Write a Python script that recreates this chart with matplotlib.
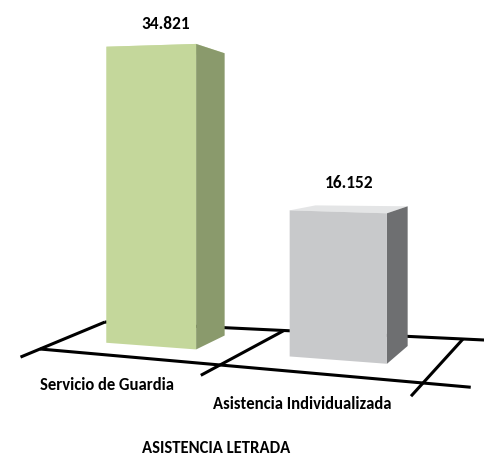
import numpy as np
import matplotlib.pyplot as plt
from matplotlib.patches import Polygon

categorias = ['Servicio de Guardia', 'Asistencia Individualizada']
valores = [34821, 16152]
etiquetas = ['34.821', '16.152']
titulo = 'ASISTENCIA LETRADA'

# colores: frente, lado, tapa
colores = [('#c4d79b', '#8a9a6c', '#d3e2b3'),
           ('#c8c9cb', '#6e6f71', '#e4e5e6')]

plt.rcParams['font.family'] = ['Carlito', 'DejaVu Sans']

W, H = 485, 456

# "camara" a mano: esquinas del piso en pixeles (u = categoria, w = profundidad)
A = np.array([40., 350.])   # u=-0.5, w=0
B = np.array([423., 384.])  # u=1.5,  w=0
C = np.array([105., 323.])  # u=-0.5, w=1
D = np.array([463., 340.])  # u=1.5,  w=1
esc = 0.008638              # pixeles por unidad de valor
ancho = 0.5
w0, w1 = 0.35, 0.78         # profundidad de las barras


def proj(u, v, w):
    t = (u + 0.5) / 2
    tf = t - 0.12 * t * (1 - t)  # algo de perspectiva en el frente
    front = A + tf * (B - A)
    back = C + t * (D - C)
    p = front + w * (back - front)
    s = 1 + 0.063 * u - 0.18 * (w - w0)
    return p[0], p[1] - v * esc * s


fig = plt.figure(figsize=(W / 100, H / 100), dpi=100)
ax = fig.add_axes([0, 0, 1, 1])
ax.set_xlim(0, W)
ax.set_ylim(H, 0)
ax.axis('off')

# piso
def linea(pts):
    xs, ys = zip(*pts)
    ax.plot(xs, ys, color='black', lw=2.2, solid_capstyle='butt', zorder=1)

linea([proj(-0.5, 0, 0), proj(1.72, 0, 0)])
linea([proj(-0.5, 0, 1), proj(2.1, 0, 1)])
for ub in [-0.5, 0.5, 1.5]:
    linea([proj(ub, 0, -0.3), proj(ub, 0, 1)])

# barras
for i, (val, col) in enumerate(zip(valores, colores)):
    ul, ur = i - ancho / 2, i + ancho / 2
    fl_b, fr_b = proj(ul, 0, w0), proj(ur, 0, w0)
    fl_t, fr_t = proj(ul, val, w0), proj(ur, val, w0)
    bl_t, br_t = proj(ul, val, w1), proj(ur, val, w1)
    br_b = proj(ur, 0, w1)
    ax.add_patch(Polygon([fl_t, fr_t, br_t, bl_t], closed=True, fc=col[2], ec='none', zorder=2))
    ax.add_patch(Polygon([fr_b, br_b, br_t, fr_t], closed=True, fc=col[1], ec='none', zorder=3))
    ax.add_patch(Polygon([fl_b, fr_b, fr_t, fl_t], closed=True, fc=col[0], ec='none', zorder=4))

    x, y = proj(i, val, (w0 + w1) / 2)
    ax.text(x, y - 27, etiquetas[i], ha='center', va='center',
            fontsize=12.5, fontweight='bold', zorder=5)

    x, y = proj(i, 0, -0.3)
    ax.text(x, y + 18, categorias[i], ha='center', va='center',
            fontsize=12, fontweight='bold', zorder=5)

fig.text(216 / W, 1 - 448 / H, titulo, ha='center', va='center',
         fontsize=12, fontweight='bold')

fig.savefig('out.png', dpi=100)
